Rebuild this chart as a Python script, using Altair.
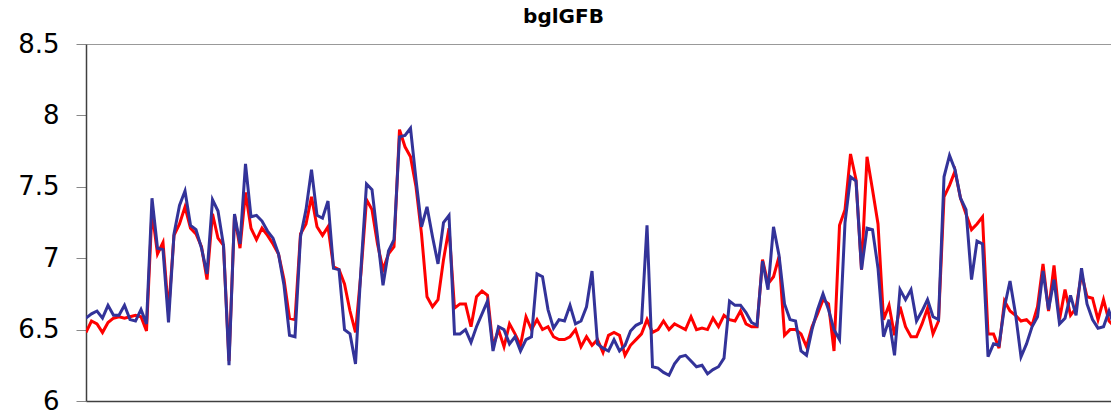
import altair as alt
import pandas as pd

red_values = [
    6.48, 6.56, 6.54, 6.48, 6.55, 6.58, 6.59, 6.58, 6.59, 6.60,
    6.59, 6.49, 7.33, 7.03, 7.11, 6.62, 7.16, 7.24, 7.36, 7.21,
    7.17, 7.08, 6.85, 7.31, 7.14, 7.09, 6.28, 7.30, 7.07, 7.46,
    7.21, 7.13, 7.21, 7.16, 7.10, 7.03, 6.85, 6.58, 6.57, 7.17,
    7.24, 7.43, 7.22, 7.16, 7.22, 6.94, 6.92, 6.82, 6.63, 6.48,
    6.90, 7.41, 7.34, 7.10, 6.92, 7.03, 7.08, 7.90, 7.78, 7.71,
    7.50, 7.17, 6.73, 6.66, 6.71, 6.99, 7.21, 6.65, 6.68, 6.68,
    6.52, 6.73, 6.77, 6.74, 6.38, 6.50, 6.38, 6.54, 6.47, 6.39,
    6.59, 6.50, 6.57, 6.50, 6.52, 6.45, 6.43, 6.43, 6.45, 6.50,
    6.38, 6.45, 6.39, 6.43, 6.34, 6.46, 6.48, 6.46, 6.32, 6.39,
    6.43, 6.47, 6.57, 6.48, 6.50, 6.56, 6.50, 6.54, 6.52, 6.50,
    6.59, 6.50, 6.51, 6.50, 6.58, 6.52, 6.60, 6.57, 6.56, 6.63,
    6.54, 6.52, 6.52, 6.99, 6.82, 6.87, 7.01, 6.46, 6.50, 6.50,
    6.47, 6.38, 6.52, 6.61, 6.71, 6.68, 6.35, 7.23, 7.34, 7.73,
    7.55, 6.92, 7.71, 7.48, 7.24, 6.57, 6.67, 6.46, 6.66, 6.52,
    6.45, 6.45, 6.54, 6.65, 6.47, 6.56, 7.43, 7.51, 7.61, 7.42,
    7.31, 7.20, 7.24, 7.29, 6.47, 6.47, 6.37, 6.70, 6.63, 6.60,
    6.56, 6.57, 6.53, 6.66, 6.96, 6.63, 6.95, 6.57, 6.78, 6.60,
    6.65, 6.89, 6.73, 6.72, 6.57, 6.71, 6.56, 6.52, 6.55,
]

blue_values = [
    6.58, 6.61, 6.63, 6.58, 6.67, 6.60, 6.60, 6.67, 6.57, 6.56,
    6.64, 6.54, 7.42, 7.07, 7.06, 6.55, 7.17, 7.37, 7.47, 7.23,
    7.20, 7.07, 6.89, 7.41, 7.33, 7.09, 6.25, 7.31, 7.10, 7.66,
    7.29, 7.30, 7.26, 7.19, 7.14, 7.03, 6.81, 6.46, 6.45, 7.15,
    7.34, 7.62, 7.30, 7.28, 7.40, 6.93, 6.92, 6.50, 6.47, 6.26,
    6.93, 7.52, 7.48, 7.15, 6.81, 7.05, 7.13, 7.85, 7.86, 7.91,
    7.55, 7.22, 7.36, 7.15, 6.96, 7.25, 7.30, 6.47, 6.47, 6.50,
    6.41, 6.52, 6.61, 6.70, 6.35, 6.52, 6.50, 6.40, 6.45, 6.35,
    6.43, 6.45, 6.89, 6.87, 6.64, 6.51, 6.57, 6.56, 6.67, 6.54,
    6.56, 6.66, 6.91, 6.40, 6.37, 6.35, 6.43, 6.35, 6.39, 6.49,
    6.53, 6.55, 7.23, 6.24, 6.23, 6.20, 6.18, 6.26, 6.31, 6.32,
    6.28, 6.24, 6.25, 6.19, 6.22, 6.24, 6.30, 6.70, 6.67, 6.67,
    6.62, 6.55, 6.53, 6.98, 6.78, 7.22, 7.02, 6.68, 6.57, 6.56,
    6.35, 6.32, 6.50, 6.64, 6.75, 6.64, 6.50, 6.43, 7.25, 7.57,
    7.54, 6.92, 7.21, 7.20, 6.93, 6.45, 6.57, 6.32, 6.78, 6.71,
    6.78, 6.56, 6.63, 6.71, 6.59, 6.57, 7.57, 7.72, 7.62, 7.42,
    7.34, 6.85, 7.12, 7.10, 6.31, 6.40, 6.39, 6.66, 6.84, 6.61,
    6.31, 6.40, 6.52, 6.59, 6.91, 6.64, 6.85, 6.54, 6.58, 6.74,
    6.60, 6.93, 6.68, 6.57, 6.51, 6.52, 6.63, 6.52, 6.90,
]

y_ticks = [6, 6.5, 7, 7.5, 8, 8.5]

red_df = pd.DataFrame({"i": list(range(len(red_values))), "v": red_values})
blue_df = pd.DataFrame({"i": list(range(len(blue_values))), "v": blue_values})

x_scale = alt.Scale(domain=[0, 186.36], nice=False, zero=False)
y_scale = alt.Scale(domain=[6, 8.5], nice=False, zero=False)

y_axis = alt.Axis(values=y_ticks, title=None, grid=False,
                  labelExpr="format(datum.value, '~g')",
                  labelFont="DejaVu Sans", labelFontSize=26,
                  labelColor="#000000", labelPadding=17,
                  tickSize=10, tickColor="#888888",
                  domainColor="#404040", domainWidth=1.5)

top_axis = alt.Axis(orient="top", labels=False, ticks=False, title=None, grid=False,
                    domainColor="#999999", domainWidth=1)
bottom_axis = alt.Axis(orient="bottom", labels=False, ticks=False, title=None, grid=False,
                       domainColor="#404040", domainWidth=1.5)

red_line = alt.Chart(red_df).mark_line(color="#FF0000", strokeWidth=3, clip=True).encode(
    x=alt.X("i:Q", scale=x_scale, axis=top_axis),
    y=alt.Y("v:Q", scale=y_scale, axis=y_axis),
)
blue_line = alt.Chart(blue_df).mark_line(color="#333399", strokeWidth=3, clip=True).encode(
    x=alt.X("i:Q", scale=x_scale, axis=bottom_axis),
    y=alt.Y("v:Q", scale=y_scale, axis=y_axis),
)

chart = alt.layer(red_line, blue_line).resolve_axis(x="independent").properties(
    width=1025,
    height=357,
    title=alt.TitleParams("bglGFB", font="DejaVu Sans", fontSize=20, fontWeight="bold",
                          anchor="middle", dx=-35, color="#000000"),
    autosize=alt.AutoSizeParams(type="none"),
    padding={"left": 78, "top": 36, "right": 0, "bottom": 10},
).configure_view(stroke=None)

chart.save("out.html", embed_options={"renderer": "svg", "actions": False})
